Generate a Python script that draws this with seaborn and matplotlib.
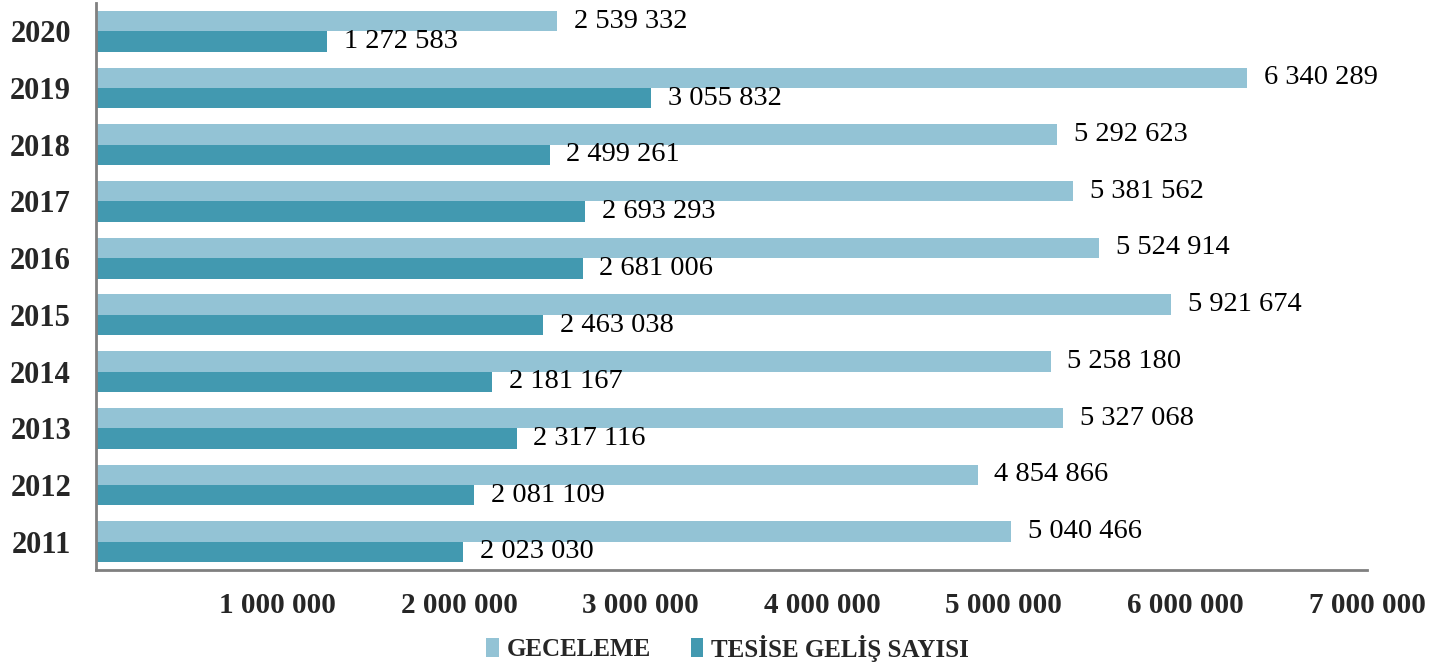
import matplotlib
matplotlib.use("Agg")
import matplotlib.pyplot as plt
import matplotlib.transforms as mtransforms
import seaborn as sns
import pandas as pd
from matplotlib.patches import Patch

years = ["2020", "2019", "2018", "2017", "2016", "2015", "2014", "2013", "2012", "2011"]
geceleme = [2539332, 6340289, 5292623, 5381562, 5524914, 5921674, 5258180, 5327068, 4854866, 5040466]
gelis = [1272583, 3055832, 2499261, 2693293, 2681006, 2463038, 2181167, 2317116, 2081109, 2023030]
series_names = ["GECELEME", "TESİSE GELİŞ SAYISI"]
xticks = [1000000, 2000000, 3000000, 4000000, 5000000, 6000000, 7000000]

colors = ["#93C3D5", "#4299B0"]

df = pd.DataFrame({
    "year": years * 2,
    "value": geceleme + gelis,
    "series": [series_names[0]] * len(years) + [series_names[1]] * len(years),
})

sns.set_theme(style="white")
plt.rcParams["font.family"] = ["Liberation Serif", "DejaVu Serif"]

fig = plt.figure(figsize=(14.46, 6.67), dpi=100)
ax = fig.add_axes([96 / 1446, 1 - 570 / 667, (1367 - 96) / 1446, (570 - 3) / 667])

sns.barplot(data=df, x="value", y="year", hue="series", order=years,
            hue_order=series_names, palette=colors, orient="h",
            width=0.72, gap=0, saturation=1, linewidth=0, ax=ax, legend=False)

shift = mtransforms.ScaledTranslation(0, -2.5 / 100, fig.dpi_scale_trans)
for cont in ax.containers:
    labels = [f"{int(v):,}".replace(",", " ") for v in cont.datavalues]
    texts = ax.bar_label(cont, labels=labels, padding=12, fontsize=20.5, color="black")
    for t in texts:
        t.set_transform(t.get_transform() + shift)

ax.set_xlim(0, 7000000)
ax.set_ylim(len(years) - 0.5, -0.5)
ax.set_xticks(xticks)
ax.set_xticklabels([f"{v:,}".replace(",", " ") for v in xticks],
                   fontsize=21, fontweight="bold")
ax.tick_params(axis="x", length=0, pad=16)
ax.tick_params(axis="y", length=0, pad=18)
for lab in ax.get_yticklabels():
    lab.set_fontweight("bold")
    lab.set_fontsize(22)
ax.set_xlabel("")
ax.set_ylabel("")
for s in ["top", "right"]:
    ax.spines[s].set_visible(False)
for s in ["left", "bottom"]:
    ax.spines[s].set_color("#808080")
    ax.spines[s].set_linewidth(2)

handles = [Patch(facecolor=c, edgecolor="none") for c in colors]
fig.legend(handles, series_names, loc="center", bbox_to_anchor=(0.503, 1 - 648 / 667),
           ncol=2, frameon=False, prop={"weight": "bold", "size": 18},
           handlelength=0.5, handleheight=0.8, handletextpad=0.3, columnspacing=1.6)

fig.savefig("out.png", dpi=100)
